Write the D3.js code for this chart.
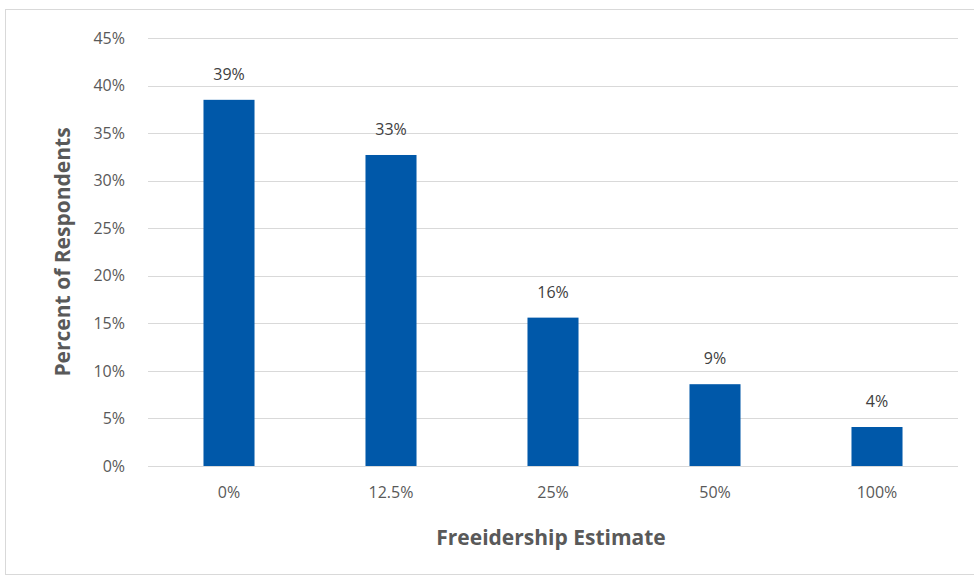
<!DOCTYPE html>
<html>
<head>
<meta charset="utf-8">
<script src="https://cdn.jsdelivr.net/npm/d3@7"></script>
<style>
  html, body { margin: 0; padding: 0; background: #ffffff; }
  svg { display: block; }
  text { font-family: "Open Sans", "Noto Sans", sans-serif; }
</style>
</head>
<body>
<svg id="chart" width="974" height="579"></svg>
<script>
// Share of respondents by freeidership estimate
const categories = ["0%", "12.5%", "25%", "50%", "100%"];
const percents = [38.5, 32.7, 15.6, 8.6, 4.1];
const yTicks = [0, 5, 10, 15, 20, 25, 30, 35, 40, 45];
const yTitle = "Percent of Respondents";
const xTitle = "Freeidership Estimate";

const svg = d3.select("#chart");
const W = 974, H = 579;

// chart frame
svg.append("rect")
  .attr("x", 5.5).attr("y", 9.5)
  .attr("width", W).attr("height", 565)
  .attr("fill", "#ffffff")
  .attr("stroke", "#d9d9d9").attr("stroke-width", 1);

const plot = { left: 148, right: 958, top: 38, bottom: 466 };

const x = d3.scaleBand()
  .domain(categories)
  .range([plot.left, plot.right])
  .paddingInner(0.685)
  .paddingOuter(0.3425);

const y = d3.scaleLinear()
  .domain([0, 45])
  .range([plot.bottom, plot.top]);

// horizontal gridlines
svg.append("g")
  .selectAll("line")
  .data(yTicks)
  .join("line")
  .attr("x1", plot.left).attr("x2", plot.right)
  .attr("y1", d => Math.round(y(d)) + 0.5)
  .attr("y2", d => Math.round(y(d)) + 0.5)
  .attr("stroke", "#d9d9d9").attr("stroke-width", 1);

// y axis labels
const yAxis = d3.axisLeft(y)
  .tickValues(yTicks)
  .tickFormat(d => d + "%")
  .tickSize(0)
  .tickPadding(0);
const gy = svg.append("g")
  .attr("transform", `translate(125,0)`)
  .call(yAxis);
gy.select(".domain").remove();
gy.selectAll("text")
  .attr("fill", "#595959")
  .style("font-family", "\"Open Sans\", sans-serif")
  .style("font-size", "16px");

// x axis labels
const xAxis = d3.axisBottom(x).tickSize(0).tickPadding(0);
const gx = svg.append("g")
  .attr("transform", `translate(0,487)`)
  .call(xAxis);
gx.select(".domain").remove();
gx.selectAll("text")
  .attr("fill", "#595959")
  .style("font-family", "\"Open Sans\", sans-serif")
  .style("font-size", "16px");

// bars
svg.append("g")
  .selectAll("rect")
  .data(percents)
  .join("rect")
  .attr("x", (d, i) => x(categories[i]))
  .attr("y", d => y(d))
  .attr("width", x.bandwidth())
  .attr("height", d => y(0) - y(d))
  .attr("fill", "#0058a9");

// value labels
svg.append("g")
  .selectAll("text")
  .data(percents)
  .join("text")
  .attr("x", (d, i) => x(categories[i]) + x.bandwidth() / 2)
  .attr("y", d => y(d) - 20)
  .attr("text-anchor", "middle")
  .attr("fill", "#404040")
  .style("font-size", "16px")
  .text(d => Math.round(d) + "%");

// axis titles
svg.append("text")
  .attr("transform", `translate(70,252) rotate(-90)`)
  .attr("text-anchor", "middle")
  .attr("fill", "#595959")
  .style("font-size", "21px")
  .style("font-weight", "bold")
  .text(yTitle);

svg.append("text")
  .attr("x", 551)
  .attr("y", 545)
  .attr("text-anchor", "middle")
  .attr("fill", "#595959")
  .style("font-size", "21px")
  .style("font-weight", "bold")
  .text(xTitle);
</script>
</body>
</html>
